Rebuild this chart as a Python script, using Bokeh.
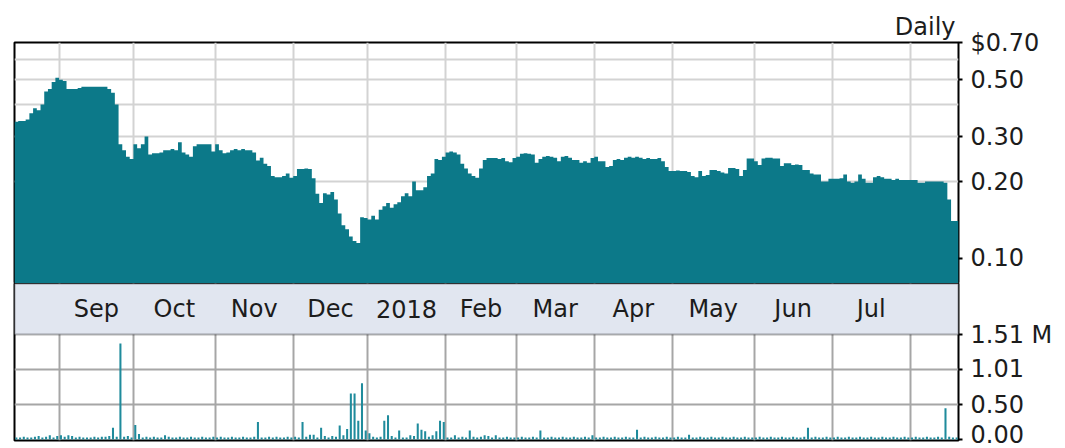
import numpy as np
from bokeh.plotting import figure
from bokeh.layouts import column
from bokeh.models import Range1d, FixedTicker, BoxAnnotation, ColumnDataSource
from bokeh.core.properties import value
from bokeh.embed import file_html
from bokeh.resources import INLINE

# ---- daily closing prices (USD), one value per trading day, grouped by month ----
close_2017_08 = [0.343, 0.345, 0.345, 0.350, 0.37, 0.387, 0.38, 0.40, 0.45, 0.46, 0.49, 0.51]
close_2017_09 = [0.50, 0.495, 0.46, 0.46, 0.46, 0.465, 0.47, 0.47, 0.47, 0.47, 0.47, 0.47, 0.47,
                 0.46, 0.445, 0.40, 0.28, 0.265, 0.25, 0.245]
close_2017_10 = [0.28, 0.27, 0.28, 0.30, 0.255, 0.258, 0.258, 0.26, 0.265, 0.265, 0.268, 0.265,
                 0.285, 0.26, 0.255, 0.25, 0.275, 0.28, 0.28, 0.28, 0.28, 0.262]
close_2017_11 = [0.28, 0.265, 0.258, 0.26, 0.265, 0.268, 0.265, 0.268, 0.265, 0.265, 0.26, 0.242,
                 0.248, 0.235, 0.23, 0.21, 0.208, 0.208, 0.21, 0.215, 0.207]
close_2017_12 = [0.21, 0.224, 0.224, 0.225, 0.224, 0.206, 0.179, 0.165, 0.18, 0.178, 0.182, 0.17,
                 0.15, 0.135, 0.13, 0.122, 0.117, 0.115, 0.145, 0.144]
close_2018_01 = [0.142, 0.147, 0.142, 0.155, 0.16, 0.165, 0.158, 0.163, 0.166, 0.175, 0.18, 0.175,
                 0.20, 0.185, 0.185, 0.19, 0.21, 0.215, 0.245, 0.243, 0.25]
close_2018_02 = [0.26, 0.262, 0.26, 0.255, 0.235, 0.225, 0.215, 0.21, 0.207, 0.225, 0.243, 0.247,
                 0.247, 0.247, 0.245, 0.247, 0.24, 0.238, 0.247]
close_2018_03 = [0.25, 0.257, 0.258, 0.257, 0.255, 0.237, 0.245, 0.25, 0.252, 0.25, 0.248, 0.24,
                 0.25, 0.252, 0.248, 0.243, 0.243, 0.237, 0.24, 0.237, 0.247]
close_2018_04 = [0.25, 0.24, 0.24, 0.228, 0.23, 0.243, 0.245, 0.243, 0.248, 0.25, 0.248, 0.25,
                 0.248, 0.245, 0.247, 0.245, 0.245, 0.247, 0.24, 0.228, 0.22]
close_2018_05 = [0.22, 0.221, 0.22, 0.22, 0.218, 0.21, 0.208, 0.22, 0.21, 0.212, 0.222, 0.222,
                 0.22, 0.217, 0.215, 0.226, 0.226, 0.224, 0.21, 0.222, 0.246, 0.246]
close_2018_06 = [0.24, 0.232, 0.246, 0.248, 0.248, 0.246, 0.246, 0.23, 0.236, 0.236, 0.232, 0.233,
                 0.232, 0.222, 0.222, 0.215, 0.213, 0.213, 0.20, 0.20, 0.205]
close_2018_07 = [0.205, 0.205, 0.206, 0.213, 0.20, 0.198, 0.20, 0.213, 0.205, 0.198, 0.198, 0.208,
                 0.21, 0.208, 0.205, 0.205, 0.203, 0.205, 0.203, 0.203, 0.203]
close_2018_08 = [0.203, 0.203, 0.198, 0.198, 0.20, 0.20, 0.20, 0.20, 0.20, 0.198, 0.17, 0.14, 0.14]

# ---- daily volume (millions of shares), grouped by month ----
vol_2017_08 = [0.03, 0.03, 0.04, 0.03, 0.03, 0.04, 0.05, 0.03, 0.04, 0.06, 0.03, 0.05]
vol_2017_09 = [0.06, 0.04, 0.06, 0.05, 0.03, 0.04, 0.03, 0.03, 0.03, 0.04, 0.03, 0.04, 0.04, 0.05,
               0.17, 0.04, 1.38, 0.04, 0.05, 0.03]
vol_2017_10 = [0.21, 0.08, 0.03, 0.04, 0.03, 0.04, 0.03, 0.03, 0.06, 0.04, 0.03, 0.03, 0.04, 0.03,
               0.03, 0.04, 0.03, 0.03, 0.04, 0.03, 0.03, 0.04]
vol_2017_11 = [0.03, 0.04, 0.03, 0.03, 0.04, 0.03, 0.03, 0.04, 0.03, 0.03, 0.04, 0.25, 0.03, 0.03,
               0.04, 0.03, 0.04, 0.03, 0.03, 0.04, 0.03]
vol_2017_12 = [0.04, 0.03, 0.25, 0.04, 0.07, 0.07, 0.03, 0.17, 0.05, 0.03, 0.05, 0.04, 0.20, 0.06,
               0.15, 0.66, 0.66, 0.27, 0.81, 0.13]
vol_2018_01 = [0.09, 0.04, 0.03, 0.04, 0.27, 0.35, 0.05, 0.03, 0.13, 0.03, 0.03, 0.06, 0.05, 0.23,
               0.14, 0.12, 0.04, 0.06, 0.12, 0.27, 0.25]
vol_2018_02 = [0.03, 0.03, 0.06, 0.03, 0.04, 0.03, 0.13, 0.04, 0.03, 0.04, 0.06, 0.05, 0.03, 0.06,
               0.03, 0.03, 0.04, 0.03, 0.03]
vol_2018_03 = [0.03, 0.04, 0.03, 0.03, 0.04, 0.03, 0.13, 0.03, 0.03, 0.04, 0.03, 0.03, 0.04, 0.03,
               0.03, 0.04, 0.03, 0.03, 0.04, 0.03, 0.06]
vol_2018_04 = [0.03, 0.03, 0.04, 0.03, 0.03, 0.04, 0.03, 0.03, 0.04, 0.03, 0.03, 0.14, 0.03, 0.04,
               0.03, 0.03, 0.04, 0.03, 0.03, 0.04, 0.03]
vol_2018_05 = [0.03, 0.04, 0.03, 0.03, 0.07, 0.03, 0.03, 0.04, 0.03, 0.03, 0.04, 0.03, 0.03, 0.04,
               0.03, 0.03, 0.04, 0.03, 0.03, 0.04, 0.03, 0.03]
vol_2018_06 = [0.03, 0.04, 0.03, 0.03, 0.04, 0.03, 0.03, 0.04, 0.03, 0.03, 0.04, 0.03, 0.03, 0.04,
               0.17, 0.03, 0.04, 0.03, 0.03, 0.04, 0.03]
vol_2018_07 = [0.03, 0.04, 0.03, 0.03, 0.04, 0.03, 0.03, 0.04, 0.03, 0.03, 0.04, 0.03, 0.03, 0.04,
               0.03, 0.03, 0.04, 0.03, 0.03, 0.04, 0.03]
vol_2018_08 = [0.03, 0.04, 0.03, 0.03, 0.04, 0.03, 0.03, 0.04, 0.03, 0.45, 0.04, 0.03, 0.03]

month_labels = ["Sep", "Oct", "Nov", "Dec", "2018", "Feb", "Mar", "Apr", "May", "Jun", "Jul"]
price_ticks = [0.10, 0.20, 0.30, 0.50, 0.70]
price_tick_labels = ["0.10", "0.20", "0.30", "0.50", "$0.70"]
price_grid = [0.20, 0.30, 0.40, 0.50, 0.60]
vol_ticks = [0.0, 0.50, 1.01, 1.51]
vol_tick_labels = ["0.00", "0.50", "1.01", "1.51 M"]

price_months = [close_2017_08, close_2017_09, close_2017_10, close_2017_11, close_2017_12,
                close_2018_01, close_2018_02, close_2018_03, close_2018_04, close_2018_05,
                close_2018_06, close_2018_07, close_2018_08]
vol_months = [vol_2017_08, vol_2017_09, vol_2017_10, vol_2017_11, vol_2017_12, vol_2018_01,
              vol_2018_02, vol_2018_03, vol_2018_04, vol_2018_05, vol_2018_06, vol_2018_07,
              vol_2018_08]

closes = np.concatenate([np.array(m, dtype=float) for m in price_months])
vols = np.concatenate([np.array(m, dtype=float) for m in vol_months])
n = len(closes)
bounds = np.cumsum([0] + [len(m) for m in price_months])
inner_bounds = [float(b) for b in bounds[1:-1]]
label_x = [float(bounds[k] + bounds[k + 1]) / 2 for k in range(1, len(bounds) - 2)]

FONT = "DejaVu Sans"
FSIZE = "24px"
TXT = "#1c1c1c"
W = 1065
x_range = Range1d(0, n)

# ---------------- price panel ----------------
p = figure(width=W, height=283, x_range=x_range, y_range=Range1d(0.0798, 0.70),
           y_axis_type="log", y_axis_location="right", x_axis_location=None,
           output_backend="svg", toolbar_location=None,
           min_border_left=14, min_border_right=107, min_border_top=42, min_border_bottom=0)
p.background_fill_color = "white"
p.border_fill_color = "white"
p.outline_line_color = "black"
p.outline_line_width = 2

p.title.text = "Daily"
p.title.align = "right"
p.title.text_font = FONT
p.title.text_font_size = FSIZE
p.title.text_font_style = "normal"
p.title.text_color = TXT
p.title.standoff = 3
p.title.offset = 3

step_src = ColumnDataSource(dict(x=np.arange(n + 1), top=np.append(closes, closes[-1])))
p.varea_step(x="x", y1=0.05, y2="top", step_mode="after", source=step_src,
             fill_color="#0c7989")

p.xgrid.ticker = FixedTicker(ticks=inner_bounds)
p.ygrid.ticker = FixedTicker(ticks=price_grid)
for g in (p.xgrid, p.ygrid):
    g.grid_line_color = "#d3d3d3"
    g.grid_line_width = 2

ax = p.yaxis[0]
ax.ticker = FixedTicker(ticks=price_ticks, minor_ticks=[])
ax.major_label_overrides = {t: l for t, l in zip(price_ticks, price_tick_labels)}
ax.axis_line_color = None
ax.major_tick_in = 0
ax.major_tick_out = 4
ax.major_tick_line_width = 2
ax.major_tick_line_color = "black"
ax.minor_tick_line_color = None
ax.major_label_standoff = 8
ax.major_label_text_font = FONT
ax.major_label_text_font_size = FSIZE
ax.major_label_text_color = TXT

# ---------------- month band + volume panel ----------------
vol_top = vol_ticks[-1]
v_start, v_end = -0.0144, 2.244
v = figure(width=W, height=165, x_range=x_range, y_range=Range1d(v_start, v_end),
           y_axis_location="right", x_axis_location=None,
           output_backend="svg", toolbar_location=None,
           min_border_left=14, min_border_right=107, min_border_top=0, min_border_bottom=8)
v.background_fill_color = "white"
v.border_fill_color = "white"
v.outline_line_color = "black"
v.outline_line_width = 2

v.vbar(x=np.arange(n) + 0.5, top=vols, bottom=0, width=0.55,
       fill_color="#1f8b9c", line_color=None)

v.xgrid.ticker = FixedTicker(ticks=inner_bounds)
v.ygrid.ticker = FixedTicker(ticks=vol_ticks[1:-1])
for g in (v.xgrid, v.ygrid):
    g.grid_line_color = "#a6a6a6"
    g.grid_line_width = 2

v.add_layout(BoxAnnotation(bottom=vol_top, fill_color="#e1e6f0", fill_alpha=1.0,
                           line_color="black", line_width=2))
band_mid = (vol_top + v_end) / 2
v.text(x=label_x, y=[band_mid] * len(label_x), text=month_labels, text_align="center",
       text_baseline="middle", text_font=value(FONT), text_font_size=FSIZE,
       text_color=TXT, level="overlay")

vax = v.yaxis[0]
vax.ticker = FixedTicker(ticks=vol_ticks, minor_ticks=[])
vax.major_label_overrides = {t: l for t, l in zip(vol_ticks, vol_tick_labels)}
vax.axis_line_color = None
vax.major_tick_in = 0
vax.major_tick_out = 4
vax.major_tick_line_width = 2
vax.major_tick_line_color = "black"
vax.minor_tick_line_color = None
vax.major_label_standoff = 8
vax.major_label_text_font = FONT
vax.major_label_text_font_size = FSIZE
vax.major_label_text_color = TXT

layout = column(p, v, spacing=0)
open("out.html", "w").write(file_html(layout, INLINE))
